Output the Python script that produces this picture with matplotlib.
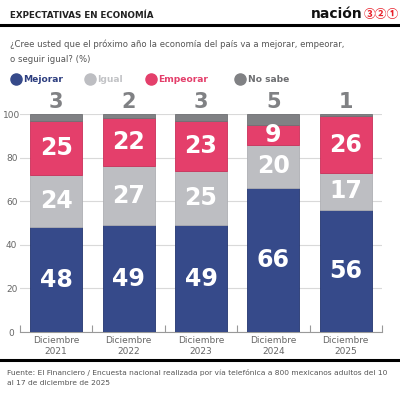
import matplotlib
matplotlib.use("Agg")
import matplotlib.pyplot as plt
from matplotlib.lines import Line2D

categories = ["Diciembre\n2021", "Diciembre\n2022", "Diciembre\n2023", "Diciembre\n2024", "Diciembre\n2025"]
mejorar = [48, 49, 49, 66, 56]
igual = [24, 27, 25, 20, 17]
empeorar = [25, 22, 23, 9, 26]
no_sabe = [3, 2, 3, 5, 1]
series_names = ["Mejorar", "Igual", "Empeorar", "No sabe"]
yticks = [0, 20, 40, 60, 80, 100]

colors = ["#364a8a", "#bdbec2", "#e43f6b", "#808184"]
edges = ["#233570", "#aeafb3", "#c93059", "#707174"]
text_colors = ["#2e3f80", "#c2c3c6", "#e43f6b", "#6d6e71"]

plt.rcParams['font.family'] = ['DejaVu Sans', 'Noto Sans CJK JP']

fig = plt.figure(figsize=(4.0, 3.93), dpi=100)
ax = fig.add_axes([0.05, 0.155, 0.905, 0.5547])

x = list(range(len(categories)))
w = 0.72
bottom = [0] * len(x)
for vals, c, e in zip([mejorar, igual, empeorar, no_sabe], colors, edges):
    ax.bar(x, vals, w, bottom=bottom, color=c, edgecolor=e, linewidth=0.6, zorder=3)
    bottom = [b + v for b, v in zip(bottom, vals)]

# in-bar labels
bottom = [0] * len(x)
for vals in [mejorar, igual, empeorar]:
    for i, v in enumerate(vals):
        ax.text(i, bottom[i] + v / 2, str(v), ha="center", va="center",
                color="white", fontsize=17, fontweight="bold", zorder=4,
                family="DejaVu Sans")
    bottom = [b + v for b, v in zip(bottom, vals)]

# No sabe labels above
for i, v in enumerate(no_sabe):
    ax.annotate(str(v), (i, 100), xytext=(0, 9), textcoords="offset points",
                ha="center", va="center", color="#808184", fontsize=15,
                fontweight="bold", annotation_clip=False)

ax.set_xlim(-0.5, 4.5)
ax.set_ylim(0, 100)
ax.set_yticks(yticks)
ax.set_yticklabels([str(t) for t in yticks], color="#666666", fontsize=6.5)
ax.tick_params(axis="y", length=0, pad=6)
for lab in ax.get_yticklabels():
    lab.set_horizontalalignment("center")
ax.yaxis.grid(True, color="#d9d9d9", linewidth=0.8, zorder=0)
ax.set_axisbelow(True)

ax.set_xticks(x)
ax.set_xticklabels(categories, color="#666666", fontsize=6.5, linespacing=1.25)
ax.tick_params(axis="x", length=0, pad=3)
ax.set_xticks([i - 0.5 for i in range(len(x) + 1)], minor=True)
ax.tick_params(axis="x", which="minor", direction="in", length=5, color="#999999", width=0.8)

for s in ["top", "right", "left"]:
    ax.spines[s].set_visible(False)
ax.spines["bottom"].set_color("#999999")
ax.spines["bottom"].set_linewidth(0.8)

# Title and logo
fig.text(10/400, 1 - 16/393, "EXPECTATIVAS EN ECONOMÍA", fontsize=6.3, fontweight="bold",
         color="#222222", va="center", ha="left")
fig.text(363/400, 1 - 14/393, "nación", fontsize=10, fontweight="bold",
         color="#111111", va="center", ha="right")
fig.text(363.5/400, 1 - 14.5/393, "③②①", fontsize=8.5, color="#e8202a", fontweight="bold",
         va="center", ha="left", family=['Noto Sans CJK JP', 'DejaVu Sans'])

fig.add_artist(Line2D([0, 1], [1 - 25/393, 1 - 25/393], color="black", linewidth=2.2))

# Subtitle
fig.text(10/400, 1 - 44/393, "¿Cree usted que el próximo año la economía del país va a mejorar, empeorar,",
         fontsize=6.1, color="#555555", va="center", ha="left")
fig.text(10/400, 1 - 59/393, "o seguir igual? (%)",
         fontsize=6.1, color="#555555", va="center", ha="left")

# Legend
leg_x = [15.5, 89.5, 151, 240]
for lx, name, c, tc in zip(leg_x, series_names, colors, text_colors):
    fig.add_artist(Line2D([lx/400], [1 - 79/393], marker="o", markersize=8,
                          color=c, markeredgecolor=c, linestyle="none"))
    fig.text((lx + 7.5)/400, 1 - 79/393, name, fontsize=6.6, fontweight="bold",
             color=tc, va="center", ha="left")

# Bottom line and footnote
fig.add_artist(Line2D([0, 1], [1 - 360/393, 1 - 360/393], color="black", linewidth=2.2))
fig.text(7/400, 1 - 372/393,
         "Fuente: El Financiero / Encuesta nacional realizada por vía telefónica a 800 mexicanos adultos del 10",
         fontsize=5.4, color="#555555", va="center", ha="left")
fig.text(7/400, 1 - 383/393, "al 17 de diciembre de 2025",
         fontsize=5.4, color="#555555", va="center", ha="left")

fig.savefig("out.png", dpi=100)
